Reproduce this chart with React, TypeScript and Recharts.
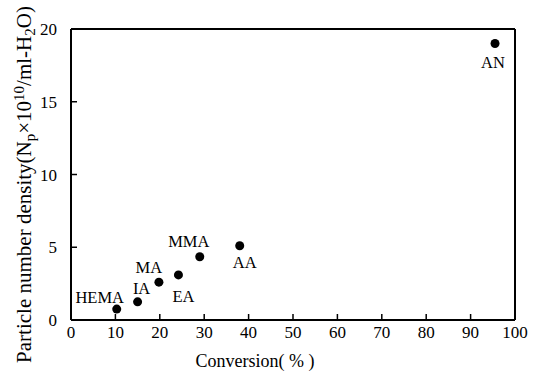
import { ReferenceLine, Scatter, ScatterChart, XAxis, YAxis } from "recharts";

const monomers = ["HEMA", "IA", "MA", "EA", "MMA", "AA", "AN"];
const conversion = [10.3, 15, 19.8, 24.2, 29, 38, 95.5];
const density = [0.75, 1.25, 2.6, 3.1, 4.35, 5.1, 19];
const xTicks = [0, 10, 20, 30, 40, 50, 60, 70, 80, 90, 100];
const yTicks = [0, 5, 10, 15, 20];

// where each monomer's name sits relative to its dot
const labelOffset: Record<string, [number, number]> = {
  HEMA: [-17, -12],
  IA: [4, -13],
  MA: [-10, -15],
  EA: [5, 22],
  MMA: [-11, -15],
  AA: [5, 17],
  AN: [-2, 19],
};

const data = monomers.map((name, i) => ({
  name,
  x: conversion[i],
  y: density[i],
}));

const font = "Liberation Serif, DejaVu Serif, serif";

function Dot(props: any) {
  const { cx, cy, payload } = props;
  const [dx, dy] = labelOffset[payload.name] ?? [0, -14];
  return (
    <g>
      <circle cx={cx} cy={cy} r={4.5} fill="#000" />
      <text
        x={cx + dx}
        y={cy + dy}
        textAnchor="middle"
        dominantBaseline="central"
        fontFamily={font}
        fontSize={16.5}
        fill="#000"
      >
        {payload.name}
      </text>
    </g>
  );
}

function XTick(props: any) {
  const { x, y, payload } = props;
  return (
    <text x={x} y={y} dy="0.71em" textAnchor="middle" fontFamily={font} fontSize={17} fill="#000">
      {payload.value}
    </text>
  );
}

function YTick(props: any) {
  const { x, y, payload } = props;
  return (
    <text x={x} y={y} dy="0.36em" textAnchor="end" fontFamily={font} fontSize={17} fill="#000">
      {payload.value}
    </text>
  );
}

function YLabel(props: any) {
  const { viewBox } = props;
  const cx = viewBox.x + 31;
  const cy = viewBox.y + viewBox.height / 2 + 10;
  return (
    <text
      x={cx}
      y={cy}
      transform={`rotate(-90 ${cx} ${cy})`}
      textAnchor="middle"
      fontFamily={font}
      fontSize={21}
      fill="#000"
    >
      Particle number density(N
      <tspan dy={4} fontSize={15}>p</tspan>
      <tspan dy={-4}>×10</tspan>
      <tspan dy={-7} fontSize={15}>10</tspan>
      <tspan dy={7}>/ml-H</tspan>
      <tspan dy={4} fontSize={15}>2</tspan>
      <tspan dy={-4}>O)</tspan>
    </text>
  );
}

function XLabel(props: any) {
  const { viewBox } = props;
  return (
    <text
      x={viewBox.x + viewBox.width / 2 - 38}
      y={viewBox.y + 47}
      textAnchor="middle"
      fontFamily={font}
      fontSize={18}
      fill="#000"
    >
      Conversion( % )
    </text>
  );
}

export default function App() {
  return (
    <div style={{ position: "absolute", left: 0, top: 0, background: "#fff" }}>
      <ScatterChart
        width={539}
        height={372}
        margin={{ top: 29, right: 24, bottom: 0, left: 0 }}
      >
        <XAxis
          type="number"
          dataKey="x"
          domain={[0, 100]}
          ticks={xTicks}
          interval={0}
          height={52}
          axisLine={{ stroke: "#000", strokeWidth: 2 }}
          tickLine={{ stroke: "#000", strokeWidth: 1.5 }}
          tickSize={-6}
          tickMargin={12}
          tick={<XTick />}
          label={<XLabel />}
        />
        <YAxis
          type="number"
          dataKey="y"
          domain={[0, 20]}
          ticks={yTicks}
          interval={0}
          width={71}
          axisLine={{ stroke: "#000", strokeWidth: 2 }}
          tickLine={{ stroke: "#000", strokeWidth: 1.5 }}
          tickSize={-6}
          tickMargin={20}
          tick={<YTick />}
          label={<YLabel />}
        />
        <ReferenceLine y={20} stroke="#000" strokeWidth={2} />
        <ReferenceLine x={100} stroke="#000" strokeWidth={2} />
        <Scatter data={data} shape={<Dot />} isAnimationActive={false} />
      </ScatterChart>
    </div>
  );
}
